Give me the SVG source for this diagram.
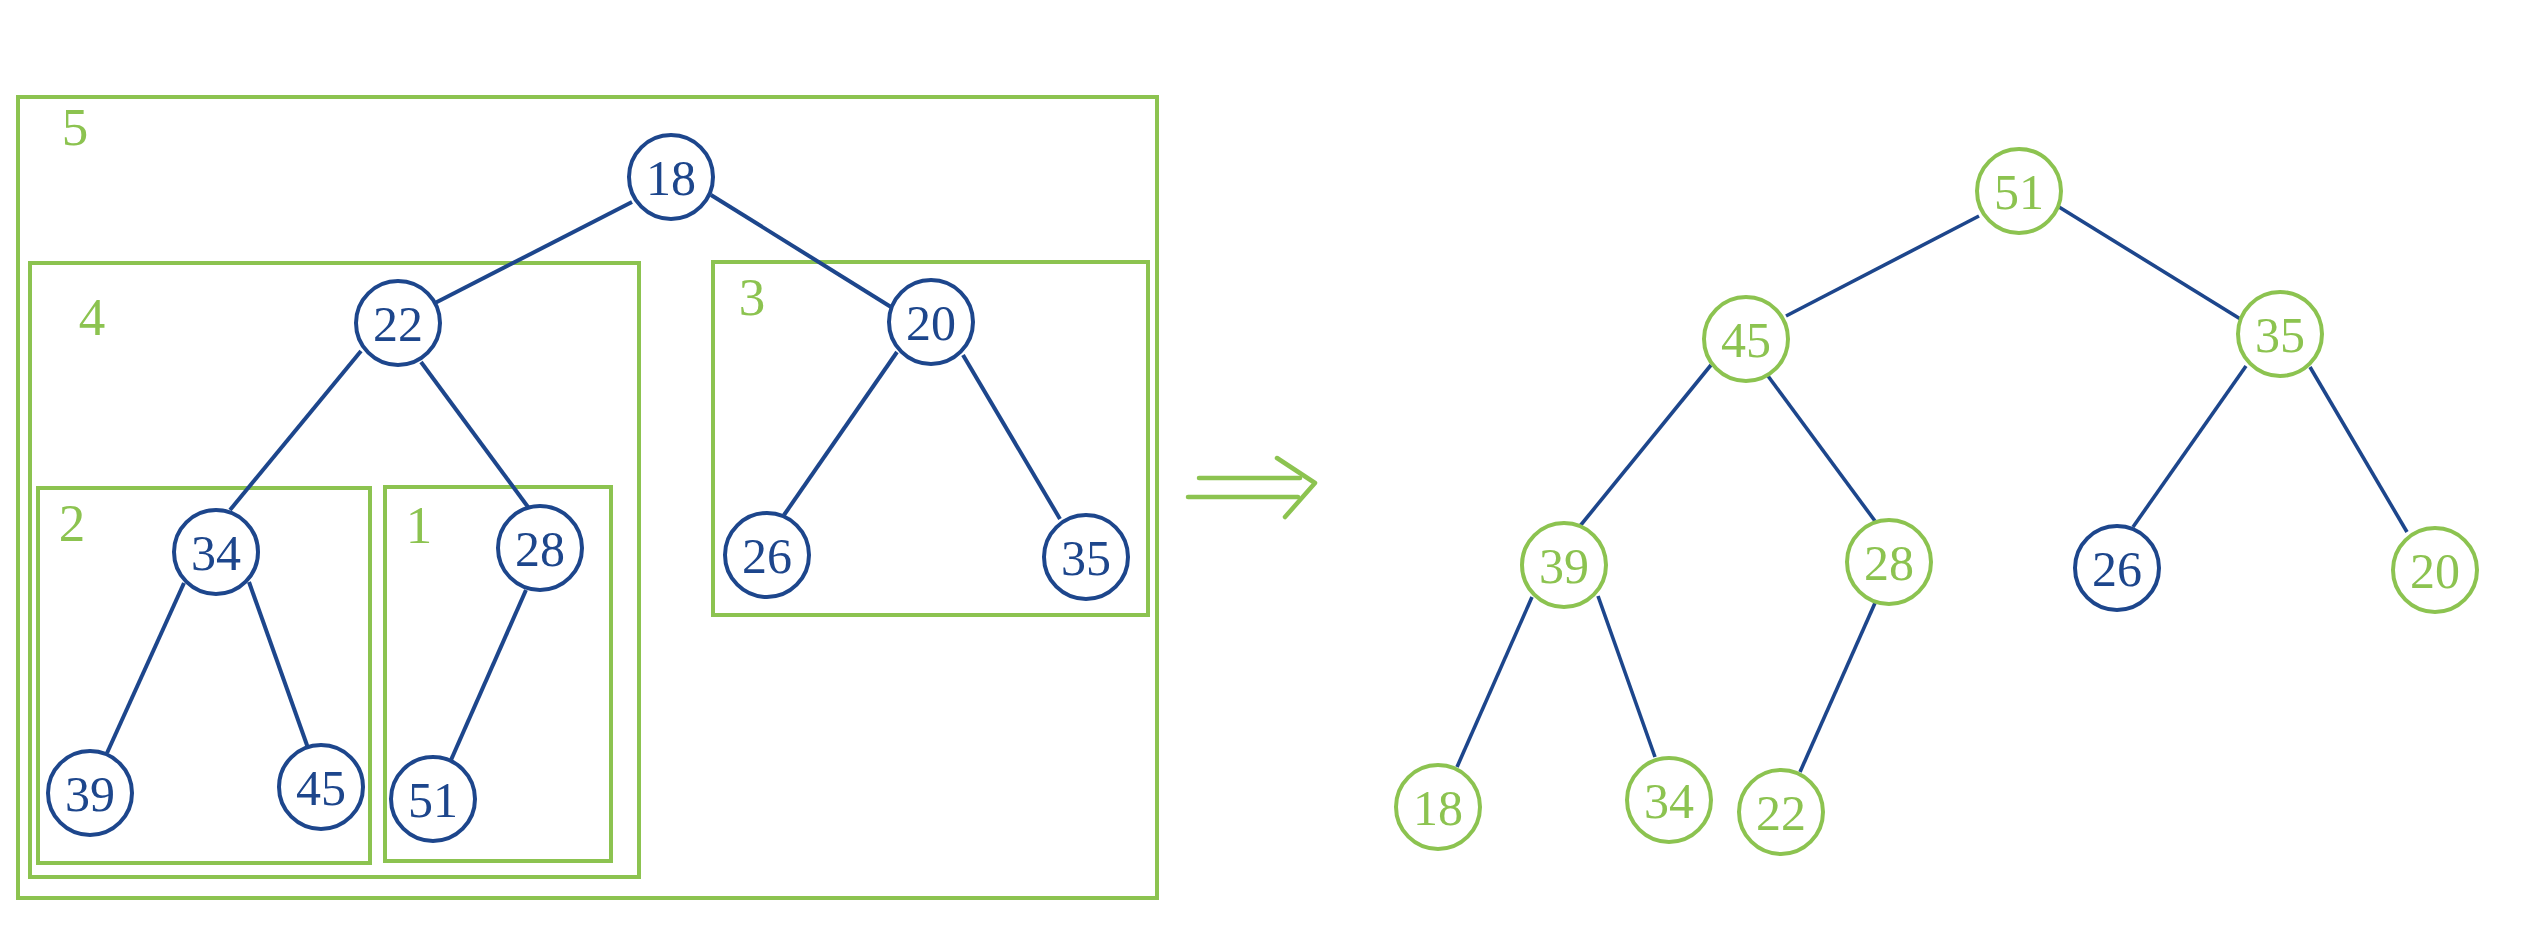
<svg xmlns="http://www.w3.org/2000/svg" width="2540" height="950" viewBox="0 0 2540 950">
<style>
.box{fill:none;stroke:#8CC350;stroke-width:4}
.lbl{font-family:"Liberation Serif","Times New Roman",serif;font-size:53px;fill:#8CC350;text-anchor:middle}
.edge{stroke:#1D468C;stroke-width:4;stroke-linecap:butt;fill:none}
.redge{stroke:#1D468C;stroke-width:3.6;fill:none}
.nb circle{fill:#fff;stroke:#1D468C;stroke-width:4}
.nb text{font-family:"Liberation Serif","Times New Roman",serif;font-size:50px;fill:#1D468C;text-anchor:middle}
.ng circle{fill:#fff;stroke:#8CC350;stroke-width:4}
.ng text{font-family:"Liberation Serif","Times New Roman",serif;font-size:50px;fill:#8CC350;text-anchor:middle}
.arr{stroke:#8CC350;stroke-width:4.5;stroke-linecap:round;stroke-linejoin:round;fill:none}
</style>
<g id="boxes">
<rect class="box" x="18" y="97" width="1139" height="801"/>
<rect class="box" x="30" y="263" width="609" height="614"/>
<rect class="box" x="713" y="262" width="435" height="353"/>
<rect class="box" x="38" y="488" width="332" height="375"/>
<rect class="box" x="385" y="487" width="226" height="374"/>
<text class="lbl" x="75" y="145">5</text>
<text class="lbl" x="92" y="335">4</text>
<text class="lbl" x="752" y="315">3</text>
<text class="lbl" x="72" y="541">2</text>
<text class="lbl" x="419" y="543">1</text>
</g>
<g id="connectors">
<line class="edge" x1="632" y1="202" x2="435" y2="303"/>
<line class="edge" x1="711" y1="195" x2="891" y2="307"/>
<line class="edge" x1="361" y1="351" x2="230" y2="510"/>
<line class="edge" x1="421" y1="362" x2="528" y2="507"/>
<line class="edge" x1="897" y1="352" x2="784" y2="515"/>
<line class="edge" x1="963" y1="355" x2="1060" y2="519"/>
<line class="edge" x1="184" y1="583" x2="107" y2="753"/>
<line class="edge" x1="249" y1="582" x2="308" y2="748"/>
<line class="edge" x1="526" y1="590" x2="451" y2="760"/>
<line class="redge" x1="1979" y1="216" x2="1786" y2="316"/>
<line class="redge" x1="2059" y1="207" x2="2242" y2="320"/>
<line class="redge" x1="1711" y1="365" x2="1580" y2="526"/>
<line class="redge" x1="1768" y1="376" x2="1875" y2="521"/>
<line class="redge" x1="2246" y1="366" x2="2133" y2="527"/>
<line class="redge" x1="2310" y1="367" x2="2407" y2="532"/>
<line class="redge" x1="1532" y1="597" x2="1457" y2="767"/>
<line class="redge" x1="1598" y1="596" x2="1655" y2="757"/>
<line class="redge" x1="1875" y1="603" x2="1800" y2="772"/>
<g class="arr">
<line x1="1199" y1="478" x2="1300" y2="478"/>
<line x1="1188" y1="497" x2="1298" y2="497"/>
<polyline points="1277,458 1315,483 1285,517"/>
</g>
</g>
<g id="n18" class="nb"><circle cx="671" cy="177" r="42"/><text x="671" y="195">18</text></g>
<g id="n22" class="nb"><circle cx="398" cy="323" r="42"/><text x="398" y="341">22</text></g>
<g id="n20" class="nb"><circle cx="931" cy="322" r="42"/><text x="931" y="340">20</text></g>
<g id="n34" class="nb"><circle cx="216" cy="552" r="42"/><text x="216" y="570">34</text></g>
<g id="n28" class="nb"><circle cx="540" cy="548" r="42"/><text x="540" y="566">28</text></g>
<g id="n26" class="nb"><circle cx="767" cy="555" r="42"/><text x="767" y="573">26</text></g>
<g id="n35" class="nb"><circle cx="1086" cy="557" r="42"/><text x="1086" y="575">35</text></g>
<g id="n39" class="nb"><circle cx="90" cy="793" r="42"/><text x="90" y="811">39</text></g>
<g id="n45" class="nb"><circle cx="321" cy="787" r="42"/><text x="321" y="805">45</text></g>
<g id="n51" class="nb"><circle cx="433" cy="799" r="42"/><text x="433" y="817">51</text></g>
<g id="r51" class="ng"><circle cx="2019" cy="191" r="42"/><text x="2019" y="209">51</text></g>
<g id="r45" class="ng"><circle cx="1746" cy="339" r="42"/><text x="1746" y="357">45</text></g>
<g id="r35" class="ng"><circle cx="2280" cy="334" r="42"/><text x="2280" y="352">35</text></g>
<g id="r39" class="ng"><circle cx="1564" cy="565" r="42"/><text x="1564" y="583">39</text></g>
<g id="r28" class="ng"><circle cx="1889" cy="562" r="42"/><text x="1889" y="580">28</text></g>
<g id="r26" class="nb"><circle cx="2117" cy="568" r="42"/><text x="2117" y="586">26</text></g>
<g id="r20" class="ng"><circle cx="2435" cy="570" r="42"/><text x="2435" y="588">20</text></g>
<g id="r18" class="ng"><circle cx="1438" cy="807" r="42"/><text x="1438" y="825">18</text></g>
<g id="r34" class="ng"><circle cx="1669" cy="800" r="42"/><text x="1669" y="818">34</text></g>
<g id="r22" class="ng"><circle cx="1781" cy="812" r="42"/><text x="1781" y="830">22</text></g>
</svg>
